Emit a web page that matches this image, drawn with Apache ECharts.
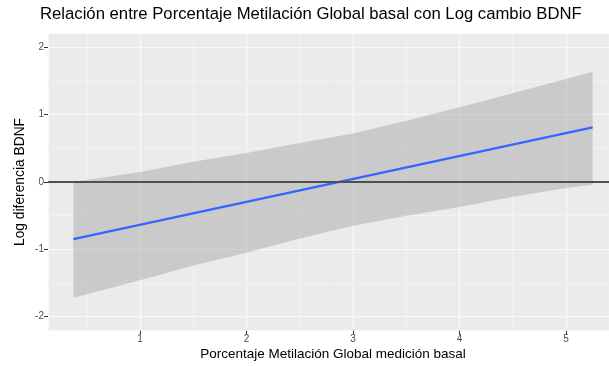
<!DOCTYPE html>
<html>
<head>
<meta charset="utf-8">
<script src="https://cdn.jsdelivr.net/npm/echarts@6/dist/echarts.min.js"></script>
<style>
html,body{margin:0;padding:0;background:#fff;}
#chart{width:609px;height:366px;}
</style>
</head>
<body>
<div id="chart"></div>
<script>
// ---- data ----
const titleText = 'Relación entre Porcentaje Metilación Global basal con Log cambio BDNF';
const xTitle = 'Porcentaje Metilación Global medición basal';
const yTitle = 'Log diferencia BDNF';
const xTicks = [1, 2, 3, 4, 5];
const yTicks = [-2, -1, 0, 1, 2];
const fitX = [0.374, 5.25];
const fitY = [-0.85, 0.81];
const bandX = [0.374, 1, 1.5, 2, 2.5, 3, 3.5, 4, 4.5, 5, 5.25];
const bandUpper = [0.00, 0.15, 0.30, 0.43, 0.58, 0.72, 0.91, 1.11, 1.32, 1.53, 1.64];
const bandLower = [-1.72, -1.46, -1.24, -1.05, -0.84, -0.65, -0.50, -0.37, -0.22, -0.09, -0.04];
const refY = 0;

const xMin = 0.136, xMax = 5.404;
const yMin = -2.21, yMax = 2.214;

const chart = echarts.init(document.getElementById('chart'), null, {renderer: 'canvas'});

const fitData = fitX.map((x, i) => [x, fitY[i]]);
const bandData = bandX.map((x, i) => [x, bandLower[i], bandUpper[i]]);

const fmtX = v => (xTicks.indexOf(Math.round(v * 1000) / 1000) >= 0 ? String(v) : '');
const fmtY = v => (yTicks.indexOf(Math.round(v * 1000) / 1000) >= 0 ? String(v) : '');

const FONT = 'Liberation Sans, Arial, sans-serif';

const option = {
  animation: false,
  textStyle: {fontFamily: FONT},
  grid: {show: true, backgroundColor: '#EBEBEB', borderWidth: 0, left: 48, right: 0, top: 33, bottom: 35.3},
  xAxis: [
    {
      type: 'value', min: xMin, max: xMax, minInterval: 1, maxInterval: 1,
      axisLine: {show: false, onZero: false},
      axisTick: {show: true, length: 4, lineStyle: {color: '#333', width: 1}},
      axisLabel: {show: true, formatter: fmtX, color: '#4D4D4D', fontSize: 10, margin: 4, showMinLabel: false, showMaxLabel: false},
      splitLine: {show: true, lineStyle: {color: '#FFFFFF', width: 1.2}}
    },
    {
      type: 'value', min: xMin, max: xMax, minInterval: 0.5, maxInterval: 0.5,
      axisLine: {show: false, onZero: false}, axisTick: {show: false}, axisLabel: {show: false},
      splitLine: {show: true, lineStyle: {color: '#F5F5F5', width: 0.7}}
    }
  ],
  yAxis: [
    {
      type: 'value', min: yMin, max: yMax, minInterval: 1, maxInterval: 1,
      axisLine: {show: false, onZero: false},
      axisTick: {show: true, length: 4, lineStyle: {color: '#333', width: 1}},
      axisLabel: {show: true, formatter: fmtY, color: '#4D4D4D', fontSize: 10, margin: 4, showMinLabel: false, showMaxLabel: false},
      splitLine: {show: true, lineStyle: {color: '#FFFFFF', width: 1.2}}
    },
    {
      type: 'value', min: yMin, max: yMax, minInterval: 0.5, maxInterval: 0.5,
      axisLine: {show: false, onZero: false}, axisTick: {show: false}, axisLabel: {show: false},
      splitLine: {show: true, lineStyle: {color: '#F5F5F5', width: 0.7}}
    }
  ],
  series: [
    {
      type: 'custom', xAxisIndex: 0, yAxisIndex: 0, z: 2, silent: true,
      data: bandData,
      renderItem: function (params, api) {
        if (params.dataIndex !== 0) return null;
        const pts = [];
        for (let i = 0; i < bandData.length; i++) pts.push(api.coord([bandData[i][0], bandData[i][2]]));
        for (let i = bandData.length - 1; i >= 0; i--) pts.push(api.coord([bandData[i][0], bandData[i][1]]));
        return {type: 'polygon', shape: {points: pts}, style: {fill: 'rgba(153,153,153,0.4)', stroke: null}};
      }
    },
    {
      type: 'line', xAxisIndex: 0, yAxisIndex: 0, z: 3, data: [], silent: true,
      markLine: {
        silent: true, symbol: ['none', 'none'], label: {show: false},
        lineStyle: {color: '#505050', width: 1.8, type: 'solid'},
        data: [{yAxis: refY}]
      }
    },
    {
      type: 'line', xAxisIndex: 0, yAxisIndex: 0, z: 4, data: fitData,
      showSymbol: false, symbol: 'none',
      lineStyle: {color: '#3366FF', width: 2.3}
    }
  ],
  graphic: [
    {type: 'text', left: 40, top: 6, style: {text: titleText, fontSize: 16.7, fill: '#000', fontFamily: FONT}},
    {type: 'text', x: 333, y: 354, style: {text: xTitle, fontSize: 13.5, fill: '#000', align: 'center', verticalAlign: 'middle', fontFamily: FONT}},
    {type: 'text', x: 20, y: 182, rotation: Math.PI / 2, style: {text: yTitle, fontSize: 13.8, fill: '#000', align: 'center', verticalAlign: 'middle', fontFamily: FONT}}
  ]
};
chart.setOption(option);
</script>
</body>
</html>
